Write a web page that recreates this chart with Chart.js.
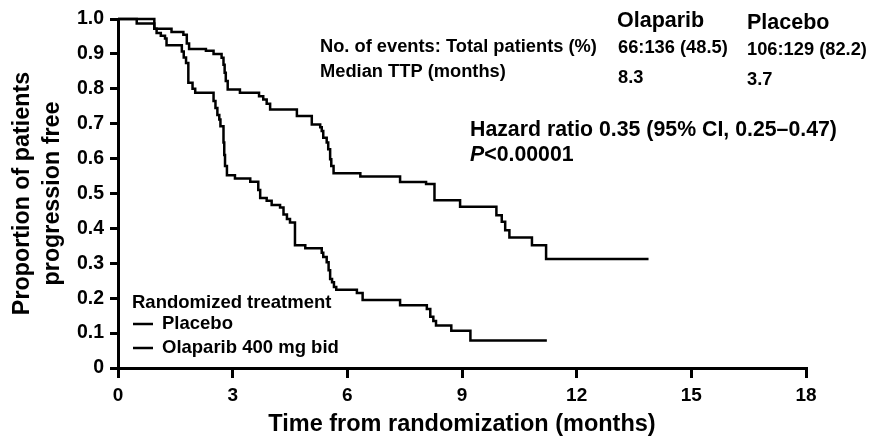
<!DOCTYPE html>
<html>
<head>
<meta charset="utf-8">
<script src="https://cdn.jsdelivr.net/npm/chart.js@4.4.1/dist/chart.umd.min.js"></script>
<style>
  html, body { margin: 0; padding: 0; background: #fff; }
  #wrap { width: 871px; height: 440px; }
</style>
</head>
<body>
<div id="wrap"><canvas id="km" width="871" height="440"></canvas></div>
<script>
// Courbes de Kaplan-Meier (temps jusqu'à progression)
const placeboMonths = [0, 0.49, 0.95, 1.01, 1.12, 1.23, 1.27, 1.67, 1.72, 1.78, 1.84, 1.95, 2.02,
  2.50, 2.55, 2.60, 2.65, 2.68, 2.76, 2.78, 2.80, 2.85, 3.06, 3.46, 3.67, 3.72, 3.89, 4.02, 4.24,
  4.33, 4.42, 4.50, 4.63, 4.90, 5.33, 5.37, 5.46, 5.51, 5.55, 5.60, 5.65, 5.71, 6.25, 6.40, 7.38,
  8.08, 8.17, 8.25, 8.32, 8.72, 9.22, 11.22];
const placeboPFS = [1.0, 0.987, 0.972, 0.960, 0.952, 0.944, 0.925, 0.907, 0.890, 0.874, 0.817, 0.800, 0.789,
  0.765, 0.745, 0.725, 0.712, 0.693, 0.646, 0.610, 0.579, 0.552, 0.543, 0.534, 0.510, 0.487, 0.479, 0.467, 0.460,
  0.440, 0.427, 0.417, 0.352, 0.343, 0.330, 0.318, 0.303, 0.280, 0.255, 0.246, 0.232, 0.224, 0.215, 0.195, 0.180,
  0.169, 0.147, 0.135, 0.122, 0.107, 0.079, 0.079];

const olaparibMonths = [0, 0.95, 1.40, 1.71, 1.80, 1.86, 2.30, 2.50, 2.71, 2.76, 2.79, 2.82, 2.87,
  3.19, 3.69, 3.80, 3.89, 3.98, 4.68, 5.07, 5.29, 5.33, 5.37, 5.46, 5.50, 5.55, 5.58, 5.64, 6.34,
  7.38, 8.06, 8.28, 8.95, 9.90, 10.04, 10.13, 10.24, 10.83, 11.20, 13.88];
const olaparibPFS = [1.0, 0.972, 0.963, 0.955, 0.930, 0.914, 0.909, 0.900, 0.889, 0.869, 0.846, 0.822, 0.798,
  0.789, 0.779, 0.769, 0.757, 0.741, 0.722, 0.698, 0.690, 0.679, 0.660, 0.646, 0.627, 0.598, 0.579, 0.558, 0.549,
  0.533, 0.527, 0.481, 0.462, 0.438, 0.419, 0.395, 0.374, 0.352, 0.312, 0.312];

const xTicks = [0, 3, 6, 9, 12, 15, 18];
const yTicks = [0, 0.1, 0.2, 0.3, 0.4, 0.5, 0.6, 0.7, 0.8, 0.9, 1.0];
const seriesLabels = ['Placebo', 'Olaparib 400 mg bid'];

// tableau en haut à droite
const armNames = ['Olaparib', 'Placebo'];
const eventsRow = ['66:136 (48.5)', '106:129 (82.2)'];
const medianRow = ['8.3', '3.7'];

const FONT = '"Liberation Sans", Arial, Helvetica, sans-serif';
Chart.defaults.font.family = FONT;
Chart.defaults.font.weight = 'bold';
Chart.defaults.color = '#000';

function toPoints(xs, ys) {
  return xs.map((x, i) => ({ x, y: ys[i] }));
}

const annotations = {
  id: 'annotations',
  afterDraw(chart) {
    const ctx = chart.ctx;
    ctx.save();
    ctx.fillStyle = '#000';
    ctx.textBaseline = 'middle';
    ctx.textAlign = 'left';

    ctx.font = 'bold 21.5px ' + FONT;
    ctx.fillText(armNames[0], 617, 21);
    ctx.fillText(armNames[1], 747, 23);

    ctx.font = 'bold 18.3px ' + FONT;
    ctx.fillText('No. of events: Total patients (%)', 320, 47);
    ctx.fillText(eventsRow[0], 618, 48);
    ctx.fillText(eventsRow[1], 747, 50);
    ctx.fillText('Median TTP (months)', 320, 72);
    ctx.fillText(medianRow[0], 618, 78);
    ctx.fillText(medianRow[1], 747, 80);

    ctx.font = 'bold 21.3px ' + FONT;
    ctx.fillText('Hazard ratio 0.35 (95% CI, 0.25\u20130.47)', 470, 130);
    ctx.font = 'italic bold 21.3px ' + FONT;
    ctx.fillText('P', 470, 155);
    const pw = ctx.measureText('P').width;
    ctx.font = 'bold 21.3px ' + FONT;
    ctx.fillText('<0.00001', 470 + pw, 155);

    // légende
    ctx.font = 'bold 18.5px ' + FONT;
    ctx.fillText('Randomized treatment', 132, 303);
    ctx.strokeStyle = '#000';
    ctx.lineWidth = 2.5;
    [324, 348].forEach((y, i) => {
      ctx.beginPath();
      ctx.moveTo(133, y);
      ctx.lineTo(153, y);
      ctx.stroke();
      ctx.fillText(seriesLabels[i], 162, y);
    });
    ctx.restore();
  }
};

const line = {
  borderColor: '#000',
  borderWidth: 2.5,
  pointRadius: 0,
  stepped: true,
  fill: false,
  clip: false
};

new Chart(document.getElementById('km'), {
  type: 'line',
  data: {
    datasets: [
      { ...line, label: seriesLabels[0], data: toPoints(placeboMonths, placeboPFS) },
      { ...line, label: seriesLabels[1], data: toPoints(olaparibMonths, olaparibPFS) }
    ]
  },
  options: {
    responsive: false,
    animation: false,
    layout: { padding: { top: 19, right: 65, left: 0, bottom: 0 } },
    plugins: { legend: { display: false }, tooltip: { enabled: false } },
    scales: {
      x: {
        type: 'linear',
        min: 0,
        max: 18,
        afterBuildTicks: s => { s.ticks = xTicks.map(v => ({ value: v })); },
        afterFit: s => { s.height = 72; },
        ticks: { font: { size: 19, weight: 'bold' }, padding: 6, color: '#000', callback: v => String(v) },
        grid: { drawOnChartArea: false, drawTicks: true, tickLength: 10, color: '#000', lineWidth: 3 },
        border: { display: true, color: '#000', width: 3 },
        title: {
          display: true,
          text: 'Time from randomization (months)',
          font: { size: 23.5, weight: 'bold' },
          padding: { top: 0, bottom: 1 },
          color: '#000'
        }
      },
      y: {
        min: 0,
        max: 1,
        afterBuildTicks: s => { s.ticks = yTicks.map(v => ({ value: v })); },
        afterFit: s => { s.width = 118; },
        ticks: { font: { size: 19.5, weight: 'bold' }, padding: 6, color: '#000',
          callback: v => (v === 0 ? '0' : v.toFixed(1)) },
        grid: { drawOnChartArea: false, drawTicks: true, tickLength: 8, color: '#000', lineWidth: 3 },
        border: { display: true, color: '#000', width: 3 },
        title: {
          display: true,
          text: ['Proportion of patients', 'progression free'],
          font: { size: 23.3, weight: 'bold', lineHeight: 1.3 },
          padding: { top: 7, bottom: 0 },
          color: '#000'
        }
      }
    }
  },
  plugins: [annotations]
});
</script>
</body>
</html>
